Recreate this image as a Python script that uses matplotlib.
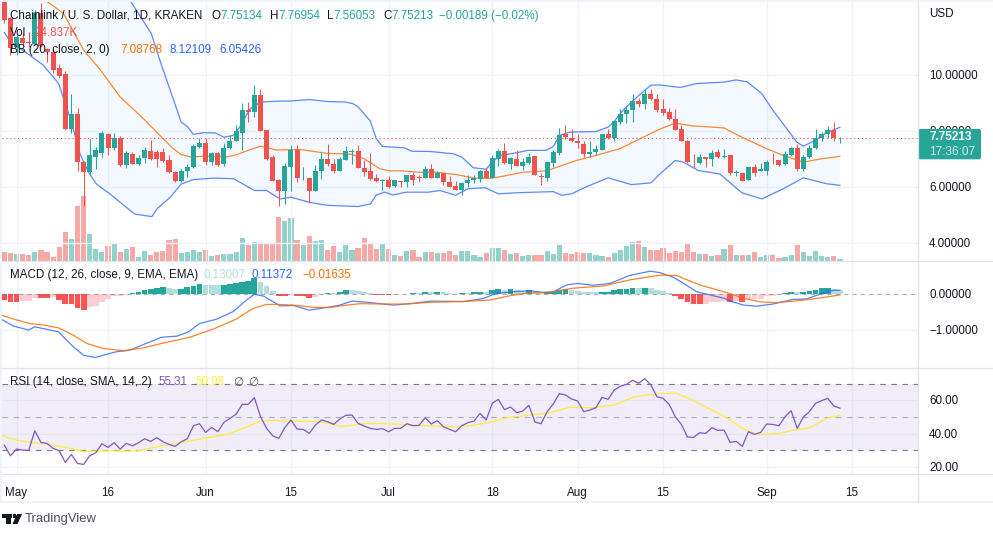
import numpy as np
import matplotlib
matplotlib.use("Agg")
import matplotlib.pyplot as plt
from matplotlib.lines import Line2D
from matplotlib.patches import Polygon, Rectangle, FancyBboxPatch

# days are counted from 1 May, first candle is 29 Apr
opens = [12.9,12.0,10.99,11.31,11.15,11.10,12.18,10.90,10.81,10.23,10.01,8.05,8.58,6.90,6.52,7.08,7.21,7.89,7.38,7.75,
         6.77,7.18,6.81,7.02,7.28,7.24,7.24,6.94,6.54,6.22,6.55,6.69,7.42,7.58,6.87,7.19,6.81,7.38,7.64,7.92,
         8.73,8.67,9.26,8.01,7.05,6.26,5.87,6.70,7.33,6.30,6.33,5.87,6.56,6.98,
         6.83,6.58,6.97,7.24,7.26,6.68,6.55,6.30,6.21,6.25,6.02,6.21,6.16,6.43,6.35,6.31,6.64,6.33,6.49,6.17,
         6.04,5.90,6.13,6.23,6.29,6.57,6.31,7.0,7.26,6.83,6.98,6.76,6.85,7.11,6.40,6.31,6.85,7.20,7.89,7.75,
         7.65,7.54,7.17,7.23,7.33,7.87,7.73,8.30,8.60,8.73,9.07,8.95,9.32,9.14,
         8.76,8.65,8.43,8.05,7.65,6.89,6.85,7.08,7.0,7.25,7.08,7.12,6.50,6.50,6.23,6.69,6.56,6.58,6.90,6.94,
         6.80,7.13,7.39,6.62,7.05,7.37,7.73,7.89,8.01,7.75134]
highs = [13.0,12.06,11.4,11.46,11.52,12.30,12.54,10.93,10.93,10.39,10.13,9.32,8.82,6.92,7.69,7.42,7.98,7.92,7.92,7.80,
         7.26,7.24,7.12,7.42,7.66,7.30,7.38,7.12,6.56,6.62,6.82,7.54,7.74,7.75,7.24,7.24,7.56,7.83,8.19,8.99,
         9.02,9.62,9.50,8.01,7.12,6.29,6.85,7.48,7.48,6.70,6.35,6.79,7.24,7.54,
         7.0,7.08,7.44,7.36,7.48,6.94,7.21,6.46,6.29,6.38,6.26,6.22,6.43,6.52,6.41,6.75,6.82,6.58,6.49,6.38,
         6.20,6.17,6.41,6.44,6.60,6.68,7.12,7.36,7.57,7.08,7.30,7.04,7.20,7.11,6.49,6.87,7.30,8.11,8.19,8.07,
         7.87,7.65,7.65,7.50,7.89,8.07,8.35,8.79,8.90,9.30,9.17,9.50,9.48,9.32,
         9.14,8.82,8.76,8.19,7.68,7.18,7.16,7.08,7.30,7.36,7.36,7.12,6.61,6.51,6.70,6.80,6.85,6.94,7.20,6.97,
         7.27,7.42,7.54,7.14,7.48,8.07,7.95,8.16,8.30,7.76954]
lows = [11.85,10.69,10.69,11.05,10.99,11.05,10.99,10.43,10.04,9.88,8.03,7.93,6.58,5.31,6.46,6.64,7.06,7.12,7.32,6.76,
        6.68,6.82,6.78,6.86,6.94,6.72,6.90,6.50,6.19,6.19,6.35,6.67,7.38,6.79,6.79,6.74,6.74,7.36,7.62,7.30,
        8.31,8.49,7.98,6.94,6.22,5.31,5.39,5.85,6.19,6.26,5.43,5.85,6.29,6.76,
        6.49,6.58,6.97,6.80,6.67,6.40,6.25,6.17,5.88,5.95,5.99,6.01,6.01,6.07,6.19,6.31,6.31,6.33,6.08,5.98,
        5.90,5.71,5.99,6.13,6.17,6.31,6.31,6.74,6.82,6.63,6.74,6.61,6.83,6.42,6.08,6.20,6.70,7.15,7.71,7.60,
        7.38,7.05,7.05,7.14,7.33,7.71,7.65,8.23,8.27,8.30,8.85,8.77,9.08,8.67,
        8.55,8.37,8.01,7.62,6.85,6.68,6.82,6.70,6.76,7.04,7.04,6.42,6.40,6.20,6.23,6.37,6.55,6.44,6.80,6.74,
        6.79,7.11,6.58,6.58,7.02,7.36,7.62,7.74,7.62,7.56053]
closes = [11.94,10.93,11.35,11.13,11.13,12.18,11.01,10.79,10.15,9.94,8.05,8.58,6.88,6.52,7.12,7.30,7.93,7.38,7.73,6.79,
          7.21,6.83,7.04,7.33,6.99,6.99,6.92,6.54,6.22,6.58,6.69,7.44,7.58,6.88,7.19,6.79,7.40,7.65,7.98,8.73,
          8.68,9.26,8.0,6.98,6.22,5.87,6.74,7.33,6.32,6.33,5.87,6.58,6.98,6.80,
          6.58,6.98,7.26,7.27,6.67,6.52,6.27,6.20,6.26,6.01,6.23,6.16,6.43,6.26,6.32,6.62,6.31,6.48,6.16,6.01,
          5.90,6.15,6.25,6.31,6.57,6.31,7.03,7.26,6.85,7.02,6.76,6.87,7.08,6.42,6.35,6.87,7.23,7.86,7.76,7.62,
          7.56,7.17,7.25,7.36,7.87,7.75,8.33,8.61,8.75,9.05,8.95,9.32,9.12,8.73,
          8.63,8.43,8.01,7.63,6.87,6.87,7.08,7.0,7.21,7.08,7.10,6.48,6.52,6.20,6.69,6.51,6.62,6.90,6.87,6.79,
          7.16,7.38,6.62,7.08,7.39,7.75,7.89,8.01,7.74,7.75213]
volumes = [125,115,105,105,85,135,165,125,55,210,435,330,825,975,405,180,135,225,255,125,
           180,210,60,150,90,135,150,315,330,110,125,165,135,165,75,90,95,100,135,345,
           240,285,270,270,270,660,600,645,315,240,375,300,315,165,
           225,135,240,165,195,345,270,180,255,180,90,75,150,165,60,135,135,110,120,150,
           90,150,150,90,60,120,195,195,165,105,120,75,90,90,90,150,105,240,120,105,
           135,120,120,90,75,60,120,165,225,285,300,210,165,165,
           195,120,150,135,270,135,105,105,75,90,180,240,90,90,90,135,60,90,90,35,
           60,90,240,135,75,150,75,60,75,24.837]

bb_upper_days = [-2,10,18.6,22.1,23.5,25.2,27,28,29,30.6,32.6,34,35.5,36.6,38.3,40,42.6,45,48,51,54,55.2,56,58,59,60,63.6,64.8,67.8,71.6,73,74.9,77,78,79.2,81.9,83.8,86.8,88,89,90.7,95,97,98,99.2,100.8,103,104,105.5,108.8,111.5,115.9,118,119.8,122.2,124,126.3,127.9,129,130.6,132.8,135]
bb_upper = [18,15,12.65,11.46,10.51,9.44,8.31,8.15,7.87,7.93,7.92,7.77,7.83,8.13,8.78,9.02,9.05,9.06,9.11,9.04,9.02,8.96,8.85,8.35,7.71,7.44,7.39,7.27,7.26,7.18,7.06,6.68,6.63,6.88,7.12,7.21,7.30,7.30,7.44,7.83,7.95,7.97,8.13,8.33,8.67,9.02,9.44,9.62,9.63,9.54,9.68,9.73,9.81,9.74,9.32,8.73,8.07,7.60,7.45,7.62,7.93,8.12109]
bb_basis_days = [-2,4.7,7.7,11,13.7,17,20.8,23.5,25.7,27,28.7,31,34.4,36,38,40,42.7,46.5,51,54.7,57,59.6,61.2,63.4,66,68.9,72,74.9,77.6,79.8,83,86.9,89,91.8,95,98.9,102.2,105.5,108,111,116,117.8,119.7,123,125.7,129,131.7,135]
bb_basis = [14,12.65,12.18,10.87,10.18,9.2,8.43,7.83,7.36,7.15,7.06,7.10,7.06,7.14,7.30,7.45,7.31,7.33,7.19,7.17,7.0,6.64,6.57,6.57,6.52,6.52,6.44,6.32,6.30,6.38,6.52,6.57,6.73,6.94,7.12,7.36,7.71,8.06,8.27,8.17,8.10,7.89,7.69,7.36,7.12,6.88,6.99,7.08768]
bb_lower_days = [-2,-1,1.4,4.4,6.9,8,9,10.4,11.8,13.1,15.3,18,19.4,22.2,23,25.2,27,29,32.3,35.6,39,41,43.2,45,48,51,56,58,59,60.4,61.7,63.9,67.5,69.4,72,74,76.8,79,82,88,89.4,91,93.5,97,100.8,104,105.5,108,109.3,111.8,115.3,118.9,122.2,125.7,129,132.8,135]
bb_lower = [11.5,11.17,10.81,10.33,9.68,8.96,8.31,7.18,6.52,6.1,5.75,5.27,5.03,4.94,5.21,5.63,6.1,6.26,6.31,6.29,5.87,5.87,5.57,5.63,5.45,5.34,5.30,5.39,5.71,5.81,5.71,5.81,5.81,5.87,5.70,5.93,5.97,5.75,5.79,5.83,5.70,5.75,6.01,6.32,6.08,6.14,6.46,6.94,6.88,6.58,6.46,5.79,5.57,5.93,6.32,6.11,6.05426]

macd_hist = [-0.16,-0.20,-0.20,-0.19,-0.18,-0.09,-0.09,-0.10,-0.08,-0.16,-0.27,-0.28,-0.39,-0.44,-0.36,-0.32,-0.20,-0.14,-0.06,-0.05,
             -0.01,0.04,0.06,0.11,0.15,0.17,0.20,0.18,0.15,0.16,0.19,0.24,0.29,0.26,0.25,0.25,0.27,0.29,0.32,0.34,
             0.38,0.44,0.34,0.23,0.10,-0.04,-0.05,-0.01,-0.05,-0.06,-0.09,-0.07,-0.02,0.04,
             0.04,0.06,0.12,0.12,0.09,0.06,0.04,-0.01,-0.02,-0.03,-0.01,-0.005,0.01,0.04,0.04,0.06,0.06,0.065,0.06,0.04,
             0.02,0.04,0.04,0.06,0.07,0.06,0.12,0.15,0.13,0.15,0.11,0.10,0.12,0.07,0.06,0.065,0.07,0.11,0.15,0.13,
             0.09,0.07,0.065,0.06,0.065,0.07,0.12,0.15,0.155,0.18,0.17,0.18,0.17,0.12,
             0.08,0.04,-0.06,-0.13,-0.20,-0.27,-0.28,-0.27,-0.22,-0.20,-0.19,-0.20,-0.18,-0.20,-0.16,-0.14,-0.12,-0.06,-0.04,-0.02,
             0.04,0.065,0.06,0.07,0.09,0.12,0.175,0.18,0.14,0.13007]
macd_days = [-2.3,-0.5,2,3,6.9,8.2,9.3,11,12.9,14.8,16.4,18.6,20.8,23.8,26.3,28.2,30,32.8,35.5,37.7,39,40.5,42,43.2,45.4,48,49.8,51.4,53,55,57.4,61.8,65,67.8,73.3,76.5,78.7,81.5,84,86.4,88,90.2,92,94.5,97.3,100.5,103.9,105.5,107.7,109.3,111.5,116,117.2,119.2,121.3,124,127.4,129.5,131.7,133.4,135]
macd_line = [-0.71,-0.88,-0.99,-0.90,-1.04,-1.27,-1.45,-1.69,-1.75,-1.66,-1.59,-1.55,-1.39,-1.19,-1.16,-1.04,-0.81,-0.69,-0.48,-0.16,0,-0.05,-0.2,-0.32,-0.31,-0.44,-0.39,-0.35,-0.30,-0.19,-0.22,-0.30,-0.25,-0.19,-0.20,-0.12,0.03,0.07,0.10,0.05,0.07,0.26,0.30,0.25,0.30,0.52,0.64,0.60,0.47,0.31,0.07,-0.11,-0.20,-0.30,-0.33,-0.27,-0.14,-0.13,0,0.10,0.11372]
signal_days = [-2.3,0,2.2,4.4,6.9,9.3,11.5,14.2,17.5,20.3,24.6,28.4,32.3,36,38.8,41,42.7,45.4,48.7,51.4,53.6,56.3,60.7,64,67.8,73.3,77.6,80.9,83.6,87.5,91.3,96.2,100.6,105.5,108.2,112,116.4,119.2,121.9,124.6,127.4,130.6,133.4,135]
signal_line = [-0.59,-0.71,-0.81,-0.85,-0.93,-1.13,-1.36,-1.5,-1.56,-1.5,-1.33,-1.19,-0.96,-0.69,-0.39,-0.28,-0.28,-0.30,-0.36,-0.37,-0.31,-0.26,-0.27,-0.27,-0.22,-0.20,-0.16,-0.04,0.03,0.06,0.17,0.23,0.40,0.53,0.52,0.26,0.05,-0.11,-0.21,-0.23,-0.19,-0.13,-0.06,-0.01635]

rsi = [33.2,26.8,30.8,30.2,30.0,41.8,34.8,34.2,31.2,29.8,22.8,27.6,22.2,21.6,26.8,28.6,34.0,31.8,34.6,30.8,
       34.2,32.8,34.6,37.0,35.4,37.6,35.2,33.6,32.4,35.2,37.0,44.8,46.0,40.8,43.8,41.2,46.8,49.2,51.6,57.6,
       57.6,61.6,50.2,43.2,38.8,37.2,43.8,48.2,42.8,42.6,40.2,45.2,48.2,47.2,
       45.6,48.8,51.0,51.2,46.2,44.6,43.2,42.6,43.0,41.2,43.2,43.2,46.0,44.8,45.0,49.6,45.8,47.8,44.2,42.6,
       41.2,44.8,46.6,47.6,52.2,48.2,58.2,60.6,54.4,56.0,52.6,53.6,57.0,47.0,46.0,53.2,57.8,64.0,63.2,60.8,
       59.6,53.2,54.2,55.6,61.8,60.6,66.2,68.4,69.6,72.0,70.2,73.0,69.2,62.2,
       61.2,57.6,50.2,45.6,38.0,37.8,40.6,40.2,43.6,42.0,42.2,34.8,35.4,32.4,41.2,39.6,40.8,45.8,45.6,44.8,
       50.2,53.8,43.2,50.0,53.2,58.2,59.8,61.2,56.6,55.31]
rsi_ma_days = [-2.3,0,2.2,4.9,8.2,11.2,13.7,17,19.7,23,26.3,30,34.5,37.2,39.4,41.6,45.4,49.2,51.4,53,54.7,57.4,62.3,66.1,71.6,74.3,77.6,80.4,84.2,86.9,90.7,94.5,98,101.1,103.3,105.5,108.2,110.4,113.7,116.4,119.2,121.1,123,125.7,127.4,130.1,132.8,135]
rsi_ma = [38.8,36.2,34.8,33.8,31.8,29.2,29.8,29.6,29.6,32.2,34.2,36.8,39.6,43.2,46.8,48.0,47.6,47.2,46.1,44.4,44.8,46.2,45.8,45.0,44.2,44.8,46.8,49.6,51.2,52.2,55.8,55.6,57.2,61.8,63.2,64.0,64.2,60.8,54.8,49.6,42.8,40.2,39.6,40.6,42.2,43.6,49.2,50.98]

# x axis labels, as day number from 1 May
tick_days = [0, 15, 31, 45, 61, 78, 92, 106, 123, 137]
tick_labels = ["May", "16", "Jun", "15", "Jul", "18", "Aug", "15", "Sep", "15"]
price_ticks = [10, 8, 6, 4]
macd_ticks = [0, -1]
rsi_ticks = [60, 40, 20]

GREEN = "#26a69a"
RED = "#ef5350"
BLUE = "#2962ff"
ORANGE = "#ff6d00"
GRID = "#f0f3fa"
BORDER = "#e0e3eb"
TEXT = "#131722"
W, H = 993, 537

plt.rcParams["font.family"] = ["Liberation Sans", "DejaVu Sans"]
plt.rcParams["font.size"] = 8.4

fig = plt.figure(figsize=(W / 100, H / 100), dpi=100, facecolor="white")


def pane(top, bottom, ylim):
    ax = fig.add_axes([2 / W, 1 - bottom / H, (918 - 2) / W, (bottom - top) / H])
    ax.set_xlim(-2.38, 147.8)
    ax.set_ylim(*ylim)
    for s in ax.spines.values():
        s.set_visible(False)
    ax.set_xticks(tick_days)
    ax.set_xticklabels([])
    ax.tick_params(length=0, labelleft=False, labelright=False)
    ax.grid(True, color=GRID, lw=1, zorder=0)
    ax.set_axisbelow(True)
    return ax


def ticks_right(ax, values, fmt):
    ax.set_yticks(values)
    for v in values:
        ax.annotate(fmt % v if v >= 0 else "\u2212" + fmt % -v, (1, v), xycoords=("axes fraction", "data"),
                    xytext=(11 * 0.72, -0.7), textcoords="offset points", ha="left", va="center",
                    color=TEXT, annotation_clip=False)


days = np.arange(len(closes)) - 2
opens_a = np.array(opens)
closes_a = np.array(closes)
up = closes_a >= opens_a
candle_colors = np.where(up, GREEN, RED)

# price pane
ax = pane(1, 260.7, (3.37, 12.62))
ticks_right(ax, price_ticks, "%.5f")

# volume on its own scale at the bottom of the pane
vax = ax.twinx()
vax.set_ylim(0, 3885)
vax.set_yticks([])
for s in vax.spines.values():
    s.set_visible(False)
vax.bar(days, volumes, width=0.85, color=candle_colors, alpha=0.5, lw=0, zorder=1)
vax.set_zorder(ax.get_zorder() - 1)
ax.patch.set_visible(False)

ax.fill(np.r_[bb_upper_days, bb_lower_days[::-1]], np.r_[bb_upper, bb_lower[::-1]],
        color="#2196f3", alpha=0.05, lw=0, zorder=1)
ax.plot(bb_upper_days, bb_upper, color=BLUE, lw=0.9, alpha=0.75, zorder=2)
ax.plot(bb_lower_days, bb_lower, color=BLUE, lw=0.9, alpha=0.75, zorder=2)
ax.plot(bb_basis_days, bb_basis, color=ORANGE, lw=0.9, alpha=0.8, zorder=2)
ax.vlines(days, lows, highs, color=candle_colors, lw=0.75, zorder=3)
ax.bar(days, closes_a - opens_a, bottom=opens_a, width=0.82, color=candle_colors, lw=0, zorder=3)
ax.axhline(closes[-1], color=RED, lw=0.8, ls=(0, (1, 2.5)), zorder=4)

# macd pane
ax2 = pane(260.7, 367.6, (-2.03, 0.93))
ticks_right(ax2, macd_ticks, "%.5f")
prev = np.r_[macd_hist[0], macd_hist[:-1]]
hist_colors = []
for v, p in zip(macd_hist, prev):
    if v >= 0:
        hist_colors.append("#26a69a" if v > p else "#b2dfdb")
    else:
        hist_colors.append("#ffcdd2" if v > p else "#ff5252")
ax2.bar(days, macd_hist, width=0.95, color=hist_colors, lw=0, zorder=2)
ax2.axhline(0, color="#787b86", lw=0.75, ls=(0, (4, 4)), alpha=0.6, zorder=2)
ax2.plot(macd_days, macd_line, color=BLUE, lw=0.9, alpha=0.8, zorder=3)
ax2.plot(signal_days, signal_line, color=ORANGE, lw=0.9, alpha=0.85, zorder=3)

# rsi pane
ax3 = pane(367.6, 474.3, (15.7, 79.6))
ticks_right(ax3, rsi_ticks, "%.2f")
ax3.axhspan(30, 70, color="#7e57c2", alpha=0.1, lw=0, zorder=1)
ax3.axhline(70, color="#787b86", lw=0.8, ls=(0, (5, 5)), zorder=2)
ax3.axhline(50, color="#787b86", lw=0.8, ls=(0, (5, 5)), alpha=0.55, zorder=2)
ax3.axhline(30, color="#787b86", lw=0.8, ls=(0, (5, 5)), zorder=2)
ax3.plot(rsi_ma_days, rsi_ma, color="#ffeb3b", lw=0.9, zorder=3)
ax3.plot(days, rsi, color="#7e57c2", lw=0.9, zorder=4)
for d, lab in zip(tick_days, tick_labels):
    ax3.annotate(lab, (d, 0), xycoords=("data", "axes fraction"), xytext=(0, -13.5), textcoords="offset points",
                 ha="center", va="center", color=TEXT, annotation_clip=False)


def fx(x):
    return x / W


def fy(y):
    return 1 - y / H


def hline(y, x0=2, x1=918, color=BORDER, lw=0.9):
    fig.add_artist(Line2D([fx(x0), fx(x1)], [fy(y), fy(y)], color=color, lw=lw))


# pane separators and frame
fig.add_artist(Rectangle((0, fy(1.5)), 1, 1.5 / H, color=GRID, lw=0))
fig.add_artist(Rectangle((0, fy(502.5)), 2 / W, 501 / H, color=GRID, lw=0))
hline(260.7, x1=993)
hline(367.6, x1=993)
hline(474.3, x1=993)
fig.add_artist(Rectangle((0, fy(503)), 1, 2 / H, color=GRID, lw=0))
fig.add_artist(Line2D([fx(918), fx(918)], [fy(1), fy(502)], color=BORDER, lw=0.9))


def label(x, y, s, color=TEXT, size=8.4, **kw):
    return fig.text(fx(x), fy(y), s, color=color, fontsize=size, va="center", ha="left", **kw)


# legends on top of the panes
label(10, 16, "Chainlink / U. S. Dollar, 1D, KRAKEN")
for x, s, c in [(212, "O", TEXT), (220, "7.75134", GREEN), (270, "H", TEXT), (278, "7.76954", GREEN),
                (327, "L", TEXT), (333, "7.56053", GREEN), (383, "C", TEXT), (391, "7.75213", GREEN),
                (439, "\u22120.00189 (\u22120.02%)", GREEN)]:
    label(x, 16, s, c)
label(10, 33, "Vol")
label(34, 33, "24.837K", RED)
label(10, 50, "BB (20, close, 2, 0)")
label(120, 50, "7.08768", ORANGE)
label(170, 50, "8.12109", "#2962ff")
label(219, 50, "6.05426", "#2962ff")
label(10, 275, "MACD (12, 26, close, 9, EMA, EMA)")
label(203, 275, "0.13007", "#b2dfdb")
label(252, 275, "0.11372", "#2962ff")
label(302, 275, "\u22120.01635", ORANGE)
label(10, 382, "RSI (14, close, SMA, 14, 2)")
label(158, 382, "55.31", "#7e57c2")
label(195, 382, "50.98", "#ffeb3b")
label(233, 382, "\u2205", "#555555", family="DejaVu Sans")
label(248, 382, "\u2205", "#555555", family="DejaVu Sans")
label(929, 14, "USD")

# last price tag
box = FancyBboxPatch((fx(918), fy(159.3)), 63 / W, 30.3 / H, boxstyle="round,pad=0,rounding_size=0.002",
                     transform=fig.transFigure, color=GREEN, lw=0, mutation_aspect=1.8)
fig.add_artist(box)
label(929, 137.5, "7.75213", "white", size=8.5, fontweight="bold")
label(929, 151.5, "17:36:07", "#d8f0ed", size=8.5)

# logo
logo = "#131722"
fig.add_artist(Rectangle((fx(2), fy(517.5)), 9.5 / W, 3.5 / H, color=logo, lw=0))
fig.add_artist(Rectangle((fx(6), fy(524)), 4.5 / W, 7 / H, color=logo, lw=0))
fig.add_artist(Polygon([(fx(17), fy(514)), (fx(22), fy(514)), (fx(17.5), fy(524)), (fx(12.5), fy(524))],
                       closed=True, color=logo, lw=0))
fig.add_artist(Rectangle((fx(12.5), fy(517.5)), 3.2 / W, 3.5 / H, color=logo, lw=0))
label(25, 519, "TradingView", "#4a4f5c", size=9.4)

fig.savefig("out.png", dpi=100)
